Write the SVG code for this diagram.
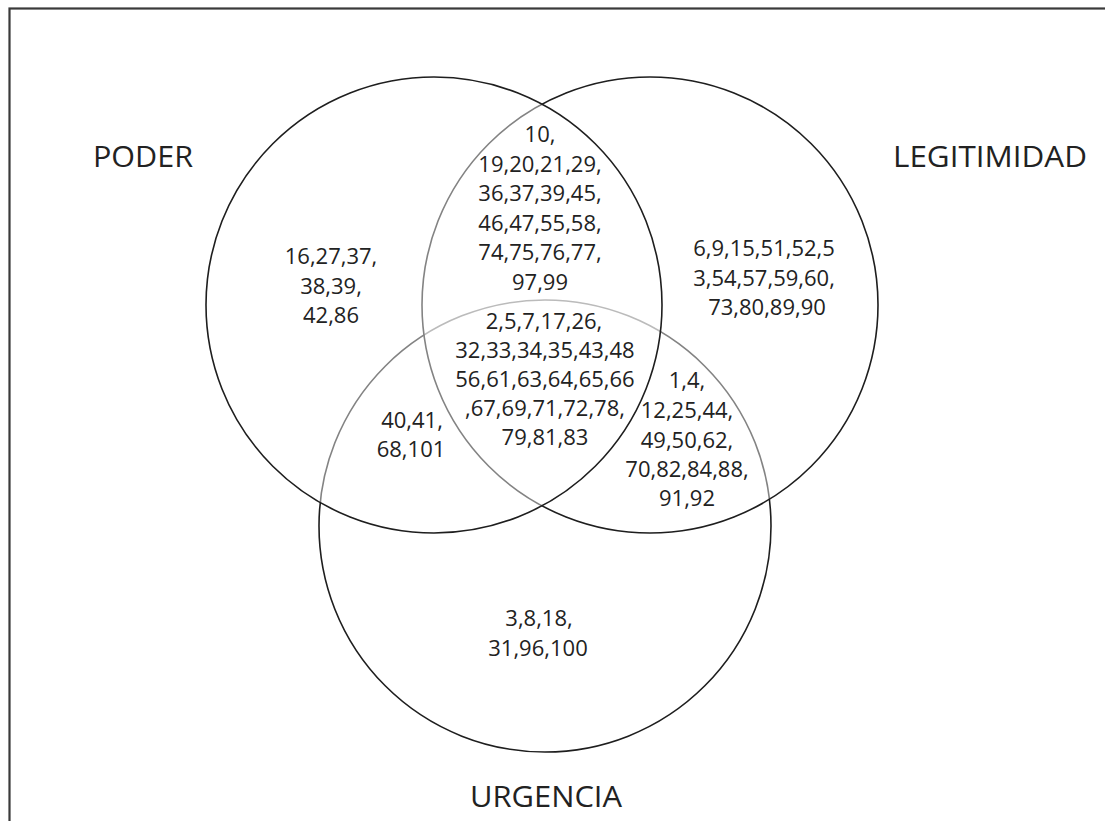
<svg xmlns="http://www.w3.org/2000/svg" width="1105" height="821" viewBox="0 0 1105 821">
  <style>
    .frame { fill: #ffffff; stroke: #3a3a3a; stroke-width: 2.2; }
    .ring { stroke: #1e1e1e; stroke-width: 1.6; }
    .under { fill: none; }
    .over { fill: #ffffff; fill-opacity: 0.45; }
    .num { font-family: "Open Sans", "Liberation Sans", sans-serif; font-size: 22px; fill: #222222; text-anchor: middle; }
    .lbl { font-family: "Open Sans", "Liberation Sans", sans-serif; font-size: 30px; fill: #222222; text-anchor: middle; }
  </style>
  <rect x="0" y="0" width="1105" height="821" fill="#ffffff"/>
  <rect class="frame" x="9.5" y="8.5" width="1200" height="1000"/>

  <g id="urgencia">
    <circle class="ring under" cx="545" cy="526" r="226"/>
    <text class="lbl" x="546" y="807" textLength="152" lengthAdjust="spacingAndGlyphs">URGENCIA</text>
  </g>
  <g id="legitimidad">
    <circle class="ring over" cx="650" cy="305" r="228"/>
    <text class="lbl" x="990" y="167" textLength="194" lengthAdjust="spacingAndGlyphs">LEGITIMIDAD</text>
  </g>
  <g id="poder">
    <circle class="ring over" cx="434" cy="305" r="228"/>
    <text class="lbl" x="143" y="167" textLength="100" lengthAdjust="spacingAndGlyphs">PODER</text>
  </g>

  <g id="connectors"></g>

  <g id="region-poder">
    <text class="num" x="331" y="264">16,27,37,</text>
    <text class="num" x="331" y="294">38,39,</text>
    <text class="num" x="331" y="323">42,86</text>
  </g>
  <g id="region-legitimidad">
    <text class="num" x="764" y="256">6,9,15,51,52,5</text>
    <text class="num" x="764" y="286">3,54,57,59,60,</text>
    <text class="num" x="767" y="315">73,80,89,90</text>
  </g>
  <g id="region-urgencia">
    <text class="num" x="539" y="626">3,8,18,</text>
    <text class="num" x="538" y="656">31,96,100</text>
  </g>
  <g id="region-poder-legitimidad">
    <text class="num" x="540" y="142">10,</text>
    <text class="num" x="540" y="172">19,20,21,29,</text>
    <text class="num" x="540" y="201">36,37,39,45,</text>
    <text class="num" x="540" y="231">46,47,55,58,</text>
    <text class="num" x="540" y="260">74,75,76,77,</text>
    <text class="num" x="540" y="290">97,99</text>
  </g>
  <g id="region-todos">
    <text class="num" x="544" y="329">2,5,7,17,26,</text>
    <text class="num" x="545" y="358">32,33,34,35,43,48</text>
    <text class="num" x="545" y="387">56,61,63,64,65,66</text>
    <text class="num" x="545" y="416">,67,69,71,72,78,</text>
    <text class="num" x="545" y="445">79,81,83</text>
  </g>
  <g id="region-poder-urgencia">
    <text class="num" x="412" y="428">40,41,</text>
    <text class="num" x="411" y="457">68,101</text>
  </g>
  <g id="region-legitimidad-urgencia">
    <text class="num" x="687" y="388">1,4,</text>
    <text class="num" x="687" y="418">12,25,44,</text>
    <text class="num" x="687" y="448">49,50,62,</text>
    <text class="num" x="687" y="477">70,82,84,88,</text>
    <text class="num" x="687" y="506">91,92</text>
  </g>
</svg>
